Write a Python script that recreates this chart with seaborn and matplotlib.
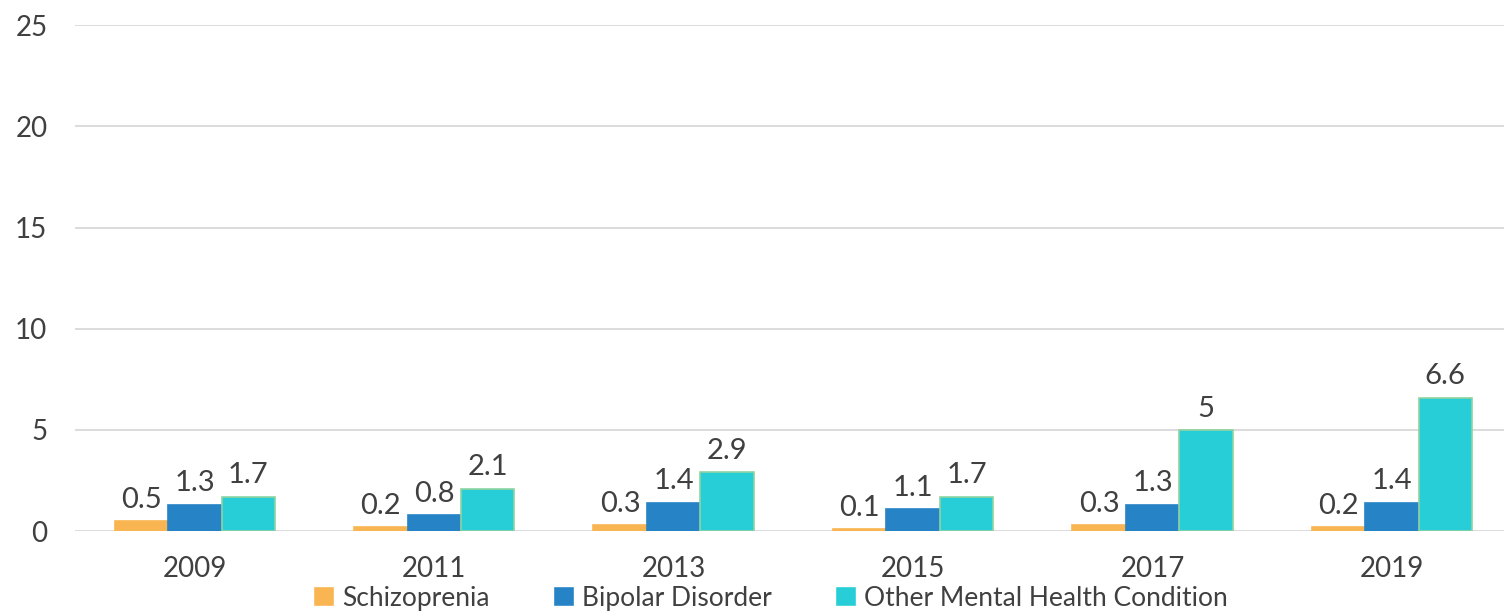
import matplotlib
matplotlib.use('Agg')
import matplotlib.pyplot as plt
import pandas as pd
import seaborn as sns

years = ['2009', '2011', '2013', '2015', '2017', '2019']
schizo = [0.5, 0.2, 0.3, 0.1, 0.3, 0.2]
bipolar = [1.3, 0.8, 1.4, 1.1, 1.3, 1.4]
other = [1.7, 2.1, 2.9, 1.7, 5, 6.6]
series = ['Schizoprenia', 'Bipolar Disorder', 'Other Mental Health Condition']
colors = ['#F9B552', '#2683C6', '#27CED7']
edges = ['#F9B552', '#2683C6', '#8FD3A0']

df = pd.DataFrame({
    'year': years * 3,
    'value': schizo + bipolar + other,
    'series': [series[0]] * 6 + [series[1]] * 6 + [series[2]] * 6,
})

sns.set_style('white')
plt.rcParams['font.family'] = ['Lato', 'DejaVu Sans']
txt = '#404040'

fig = plt.figure(figsize=(15.04, 6.14), dpi=100)
ax = fig.add_axes([0.05, 0.135, 0.955, 0.824])

sns.barplot(data=df, x='year', y='value', hue='series', palette=colors,
            width=0.67, saturation=1, ax=ax, legend=True)

for cont, ec in zip(ax.containers, edges):
    for p in cont:
        p.set_edgecolor(ec)
        p.set_linewidth(1.2)
    labels = ['{:g}'.format(v) for v in cont.datavalues]
    ax.bar_label(cont, labels=labels, padding=6, fontsize=21, color=txt)

ax.set_ylim(0, 25)
ax.set_yticks(range(0, 26, 5))
ax.yaxis.grid(True, color='#D9D9D9', linewidth=1.3)
ax.set_axisbelow(True)
for s in ax.spines.values():
    s.set_visible(False)
ax.tick_params(axis='both', length=0, labelsize=20, labelcolor=txt)
ax.tick_params(axis='y', pad=20)
ax.tick_params(axis='x', pad=18)
ax.set_xlabel('')
ax.set_ylabel('')

ax.legend(loc='center', bbox_to_anchor=(0.512, 0.026),
          bbox_transform=fig.transFigure, ncol=3, borderpad=0.1,
          frameon=False, fontsize=19, labelcolor=txt, handlelength=0.8,
          handleheight=0.8, handletextpad=0.3, columnspacing=2.4)

fig.savefig('out.png', dpi=100)
